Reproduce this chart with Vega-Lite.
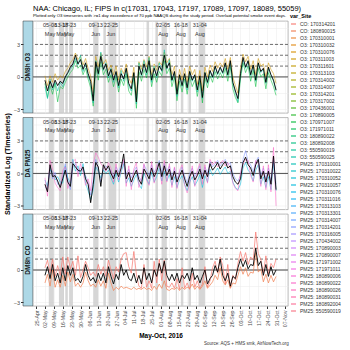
{
"$schema":"https://vega.github.io/schema/vega-lite/v6.json",
"padding":{"left":2,"top":4,"right":0,"bottom":2},
"background":"white",
"title":{"text":"NAA: Chicago, IL; FIPS in c(17031, 17043, 17197, 17089, 17097, 18089, 55059)","subtitle":"Plotted only O3 timeseries with >=1 day exceedence of 70 ppb NAAQS during the study period. Overlaid potential smoke event days.","anchor":"start","frame":"group","dx":10,"fontSize":7.5,"fontWeight":"normal","font":"Liberation Sans","subtitleFont":"Liberation Sans","subtitleFontSize":4.3,"color":"#000000","subtitleColor":"#000000","subtitlePadding":1.5,"offset":-4},
"config":{
"font":"Liberation Sans",
"axis":{"labelFont":"Liberation Sans","labelFontSize":5.5,"labelColor":"#4D4D4D","tickColor":"#333333","tickSize":2.5,"domain":false,"gridColor":"#EBEBEB","gridWidth":0.5,"titleFont":"Liberation Sans","titleFontSize":7,"titleFontWeight":"bold","titleColor":"#000000","labelOverlap":false},
"axisX":{"labelOverlap":false},
"legend":{"labelFont":"Liberation Sans","labelFontSize":5,"labelColor":"#333333","titleFont":"Liberation Sans","titleFontSize":5.5,"titleFontWeight":"bold","titleColor":"#000000","symbolType":"stroke","symbolStrokeWidth":1.2,"symbolSize":25,"rowPadding":0,"labelOffset":3,"symbolLimit":60,"titlePadding":1}
},
"datasets":{
"series":[{"k":"a","s":"O3: 170311003"},{"k":"b","s":"O3: 170971007"},{"k":"c","s":"O3: 550590025"},{"k":"d","s":"PM25: 170310057"},{"k":"e","s":"PM25: 170314201"},{"k":"f","s":"PM25: 180890022"},{"k":"g","s":"CO: 170314201"},{"k":"h","s":"CO: 180890015"}],
"bands":[{"t":"2016-05-05","t2":"2016-05-09"},{"t":"2016-05-13","t2":"2016-05-17"},{"t":"2016-05-18","t2":"2016-05-20"},{"t":"2016-05-21","t2":"2016-05-24"},{"t":"2016-06-09","t2":"2016-06-13"},{"t":"2016-06-17","t2":"2016-06-19"},{"t":"2016-06-21","t2":"2016-06-27"},{"t":"2016-06-29","t2":"2016-06-30"},{"t":"2016-07-21","t2":"2016-07-23"},{"t":"2016-07-28","t2":"2016-07-30"},{"t":"2016-08-02","t2":"2016-08-06"},{"t":"2016-08-13","t2":"2016-08-14"},{"t":"2016-08-17","t2":"2016-08-19"},{"t":"2016-08-23","t2":"2016-08-25"},{"t":"2016-08-31","t2":"2016-09-05"}],
"events":[{"t":"2016-05-06","lab":"05-08","m":"May"},{"t":"2016-05-15","lab":"13-17","m":"May"},{"t":"2016-05-21","lab":"18-23","m":"May"},{"t":"2016-06-11","lab":"09-13","m":"Jun"},{"t":"2016-06-23","lab":"22-25","m":"Jun"},{"t":"2016-08-03","lab":"02-05","m":"Aug"},{"t":"2016-08-17","lab":"16-18","m":"Aug"},{"t":"2016-09-01","lab":"31-04","m":"Aug"}],
"refs":[{"v":1},{"v":2},{"v":3}],
"zero":[{"v":0}],
"o3":[
{"t":"2016-05-02","k":"m","v":-0.3},{"t":"2016-05-02","k":"a","v":0.1},{"t":"2016-05-02","k":"b","v":-0.6},{"t":"2016-05-02","k":"c","v":-0.9},
{"t":"2016-05-04","k":"m","v":-1.3},{"t":"2016-05-04","k":"a","v":-0.8},{"t":"2016-05-04","k":"b","v":-1.9},{"t":"2016-05-04","k":"c","v":-2.0},
{"t":"2016-05-06","k":"m","v":-0.4},{"t":"2016-05-06","k":"a","v":0.1},{"t":"2016-05-06","k":"b","v":-0.8},{"t":"2016-05-06","k":"c","v":-0.2},
{"t":"2016-05-08","k":"m","v":-1.0},{"t":"2016-05-08","k":"a","v":-0.5},{"t":"2016-05-08","k":"b","v":-1.6},{"t":"2016-05-08","k":"c","v":-1.2},
{"t":"2016-05-10","k":"m","v":-0.3},{"t":"2016-05-10","k":"a","v":0.3},{"t":"2016-05-10","k":"b","v":-0.6},{"t":"2016-05-10","k":"c","v":-0.5},
{"t":"2016-05-12","k":"m","v":-0.8},{"t":"2016-05-12","k":"a","v":-0.3},{"t":"2016-05-12","k":"b","v":-2.3},{"t":"2016-05-12","k":"c","v":-1.3},
{"t":"2016-05-14","k":"m","v":-0.4},{"t":"2016-05-14","k":"a","v":0.1},{"t":"2016-05-14","k":"b","v":-0.9},{"t":"2016-05-14","k":"c","v":-0.5},
{"t":"2016-05-16","k":"m","v":-0.6},{"t":"2016-05-16","k":"a","v":-0.1},{"t":"2016-05-16","k":"b","v":-1.1},{"t":"2016-05-16","k":"c","v":-0.9},
{"t":"2016-05-18","k":"m","v":0.0},{"t":"2016-05-18","k":"a","v":0.5},{"t":"2016-05-18","k":"b","v":-0.5},{"t":"2016-05-18","k":"c","v":-0.1},
{"t":"2016-05-20","k":"m","v":0.4},{"t":"2016-05-20","k":"a","v":0.8},{"t":"2016-05-20","k":"b","v":0.0},{"t":"2016-05-20","k":"c","v":0.3},
{"t":"2016-05-22","k":"m","v":0.9},{"t":"2016-05-22","k":"a","v":1.3},{"t":"2016-05-22","k":"b","v":0.4},{"t":"2016-05-22","k":"c","v":0.7},
{"t":"2016-05-24","k":"m","v":1.2},{"t":"2016-05-24","k":"a","v":1.6},{"t":"2016-05-24","k":"b","v":0.7},{"t":"2016-05-24","k":"c","v":1.0},
{"t":"2016-05-26","k":"m","v":2.0},{"t":"2016-05-26","k":"a","v":2.2},{"t":"2016-05-26","k":"b","v":1.5},{"t":"2016-05-26","k":"c","v":1.7},
{"t":"2016-05-28","k":"m","v":1.2},{"t":"2016-05-28","k":"a","v":1.6},{"t":"2016-05-28","k":"b","v":0.8},{"t":"2016-05-28","k":"c","v":1.1},
{"t":"2016-05-30","k":"m","v":1.6},{"t":"2016-05-30","k":"a","v":1.9},{"t":"2016-05-30","k":"b","v":1.1},{"t":"2016-05-30","k":"c","v":2.0},
{"t":"2016-06-01","k":"m","v":0.7},{"t":"2016-06-01","k":"a","v":1.1},{"t":"2016-06-01","k":"b","v":0.2},{"t":"2016-06-01","k":"c","v":0.5},
{"t":"2016-06-03","k":"m","v":1.3},{"t":"2016-06-03","k":"a","v":1.7},{"t":"2016-06-03","k":"b","v":0.8},{"t":"2016-06-03","k":"c","v":1.2},
{"t":"2016-06-05","k":"m","v":0.3},{"t":"2016-06-05","k":"a","v":0.8},{"t":"2016-06-05","k":"b","v":-0.2},{"t":"2016-06-05","k":"c","v":0.1},
{"t":"2016-06-07","k":"m","v":-0.4},{"t":"2016-06-07","k":"a","v":0.1},{"t":"2016-06-07","k":"b","v":-1.0},{"t":"2016-06-07","k":"c","v":-0.6},
{"t":"2016-06-09","k":"m","v":-2.2},{"t":"2016-06-09","k":"a","v":-1.5},{"t":"2016-06-09","k":"b","v":-2.7},{"t":"2016-06-09","k":"c","v":-2.4},
{"t":"2016-06-11","k":"m","v":1.4},{"t":"2016-06-11","k":"a","v":1.9},{"t":"2016-06-11","k":"b","v":0.9},{"t":"2016-06-11","k":"c","v":1.5},
{"t":"2016-06-13","k":"m","v":0.3},{"t":"2016-06-13","k":"a","v":0.9},{"t":"2016-06-13","k":"b","v":-0.3},{"t":"2016-06-13","k":"c","v":0.2},
{"t":"2016-06-15","k":"m","v":1.9},{"t":"2016-06-15","k":"a","v":2.2},{"t":"2016-06-15","k":"b","v":1.4},{"t":"2016-06-15","k":"c","v":2.3},
{"t":"2016-06-17","k":"m","v":0.7},{"t":"2016-06-17","k":"a","v":1.2},{"t":"2016-06-17","k":"b","v":0.2},{"t":"2016-06-17","k":"c","v":0.6},
{"t":"2016-06-19","k":"m","v":1.2},{"t":"2016-06-19","k":"a","v":1.6},{"t":"2016-06-19","k":"b","v":0.7},{"t":"2016-06-19","k":"c","v":1.3},
{"t":"2016-06-21","k":"m","v":0.1},{"t":"2016-06-21","k":"a","v":0.6},{"t":"2016-06-21","k":"b","v":-0.5},{"t":"2016-06-21","k":"c","v":-0.1},
{"t":"2016-06-23","k":"m","v":0.7},{"t":"2016-06-23","k":"a","v":1.1},{"t":"2016-06-23","k":"b","v":0.2},{"t":"2016-06-23","k":"c","v":0.8},
{"t":"2016-06-25","k":"m","v":-0.3},{"t":"2016-06-25","k":"a","v":0.2},{"t":"2016-06-25","k":"b","v":-0.9},{"t":"2016-06-25","k":"c","v":-0.5},
{"t":"2016-06-27","k":"m","v":0.5},{"t":"2016-06-27","k":"a","v":1.0},{"t":"2016-06-27","k":"b","v":0.0},{"t":"2016-06-27","k":"c","v":0.4},
{"t":"2016-06-29","k":"m","v":-0.8},{"t":"2016-06-29","k":"a","v":-0.3},{"t":"2016-06-29","k":"b","v":-1.4},{"t":"2016-06-29","k":"c","v":-1.0},
{"t":"2016-07-01","k":"m","v":0.3},{"t":"2016-07-01","k":"a","v":0.8},{"t":"2016-07-01","k":"b","v":-0.2},{"t":"2016-07-01","k":"c","v":0.6},
{"t":"2016-07-03","k":"m","v":-0.2},{"t":"2016-07-03","k":"a","v":0.3},{"t":"2016-07-03","k":"b","v":-0.8},{"t":"2016-07-03","k":"c","v":-0.4},
{"t":"2016-07-05","k":"m","v":0.8},{"t":"2016-07-05","k":"a","v":1.2},{"t":"2016-07-05","k":"b","v":0.3},{"t":"2016-07-05","k":"c","v":0.7},
{"t":"2016-07-07","k":"m","v":-0.6},{"t":"2016-07-07","k":"a","v":-0.1},{"t":"2016-07-07","k":"b","v":-1.3},{"t":"2016-07-07","k":"c","v":-0.8},
{"t":"2016-07-09","k":"m","v":-1.1},{"t":"2016-07-09","k":"a","v":-0.6},{"t":"2016-07-09","k":"b","v":-1.7},{"t":"2016-07-09","k":"c","v":-1.3},
{"t":"2016-07-11","k":"m","v":0.4},{"t":"2016-07-11","k":"a","v":0.9},{"t":"2016-07-11","k":"b","v":-0.1},{"t":"2016-07-11","k":"c","v":0.3},
{"t":"2016-07-13","k":"m","v":-2.3},{"t":"2016-07-13","k":"a","v":-1.7},{"t":"2016-07-13","k":"b","v":-2.9},{"t":"2016-07-13","k":"c","v":-2.5},
{"t":"2016-07-15","k":"m","v":1.0},{"t":"2016-07-15","k":"a","v":1.4},{"t":"2016-07-15","k":"b","v":0.5},{"t":"2016-07-15","k":"c","v":1.3},
{"t":"2016-07-17","k":"m","v":0.2},{"t":"2016-07-17","k":"a","v":0.7},{"t":"2016-07-17","k":"b","v":-0.4},{"t":"2016-07-17","k":"c","v":0.1},
{"t":"2016-07-19","k":"m","v":1.2},{"t":"2016-07-19","k":"a","v":1.6},{"t":"2016-07-19","k":"b","v":0.7},{"t":"2016-07-19","k":"c","v":1.5},
{"t":"2016-07-21","k":"m","v":0.4},{"t":"2016-07-21","k":"a","v":0.9},{"t":"2016-07-21","k":"b","v":-0.1},{"t":"2016-07-21","k":"c","v":0.2},
{"t":"2016-07-23","k":"m","v":1.5},{"t":"2016-07-23","k":"a","v":1.9},{"t":"2016-07-23","k":"b","v":1.0},{"t":"2016-07-23","k":"c","v":1.8},
{"t":"2016-07-25","k":"m","v":-0.3},{"t":"2016-07-25","k":"a","v":0.2},{"t":"2016-07-25","k":"b","v":-0.9},{"t":"2016-07-25","k":"c","v":-0.5},
{"t":"2016-07-27","k":"m","v":0.8},{"t":"2016-07-27","k":"a","v":1.2},{"t":"2016-07-27","k":"b","v":0.3},{"t":"2016-07-27","k":"c","v":1.0},
{"t":"2016-07-29","k":"m","v":0.1},{"t":"2016-07-29","k":"a","v":0.6},{"t":"2016-07-29","k":"b","v":-0.5},{"t":"2016-07-29","k":"c","v":-0.1},
{"t":"2016-07-31","k":"m","v":1.0},{"t":"2016-07-31","k":"a","v":1.4},{"t":"2016-07-31","k":"b","v":0.5},{"t":"2016-07-31","k":"c","v":1.3},
{"t":"2016-08-02","k":"m","v":0.6},{"t":"2016-08-02","k":"a","v":1.1},{"t":"2016-08-02","k":"b","v":0.1},{"t":"2016-08-02","k":"c","v":0.5},
{"t":"2016-08-04","k":"m","v":2.0},{"t":"2016-08-04","k":"a","v":2.3},{"t":"2016-08-04","k":"b","v":1.5},{"t":"2016-08-04","k":"c","v":2.5},
{"t":"2016-08-06","k":"m","v":0.8},{"t":"2016-08-06","k":"a","v":1.3},{"t":"2016-08-06","k":"b","v":0.3},{"t":"2016-08-06","k":"c","v":0.7},
{"t":"2016-08-08","k":"m","v":1.3},{"t":"2016-08-08","k":"a","v":1.7},{"t":"2016-08-08","k":"b","v":0.8},{"t":"2016-08-08","k":"c","v":1.6},
{"t":"2016-08-10","k":"m","v":-0.3},{"t":"2016-08-10","k":"a","v":0.2},{"t":"2016-08-10","k":"b","v":-0.9},{"t":"2016-08-10","k":"c","v":-0.4},
{"t":"2016-08-12","k":"m","v":0.5},{"t":"2016-08-12","k":"a","v":1.0},{"t":"2016-08-12","k":"b","v":0.0},{"t":"2016-08-12","k":"c","v":0.4},
{"t":"2016-08-14","k":"m","v":-1.6},{"t":"2016-08-14","k":"a","v":-1.1},{"t":"2016-08-14","k":"b","v":-2.2},{"t":"2016-08-14","k":"c","v":-1.8},
{"t":"2016-08-16","k":"m","v":0.2},{"t":"2016-08-16","k":"a","v":0.7},{"t":"2016-08-16","k":"b","v":-0.4},{"t":"2016-08-16","k":"c","v":0.1},
{"t":"2016-08-18","k":"m","v":-0.8},{"t":"2016-08-18","k":"a","v":-0.3},{"t":"2016-08-18","k":"b","v":-1.4},{"t":"2016-08-18","k":"c","v":-0.9},
{"t":"2016-08-20","k":"m","v":0.3},{"t":"2016-08-20","k":"a","v":0.8},{"t":"2016-08-20","k":"b","v":-0.2},{"t":"2016-08-20","k":"c","v":0.2},
{"t":"2016-08-22","k":"m","v":-1.0},{"t":"2016-08-22","k":"a","v":-0.5},{"t":"2016-08-22","k":"b","v":-1.6},{"t":"2016-08-22","k":"c","v":-1.2},
{"t":"2016-08-24","k":"m","v":0.5},{"t":"2016-08-24","k":"a","v":1.0},{"t":"2016-08-24","k":"b","v":0.0},{"t":"2016-08-24","k":"c","v":0.5},
{"t":"2016-08-26","k":"m","v":-0.3},{"t":"2016-08-26","k":"a","v":0.2},{"t":"2016-08-26","k":"b","v":-0.9},{"t":"2016-08-26","k":"c","v":-0.4},
{"t":"2016-08-28","k":"m","v":0.2},{"t":"2016-08-28","k":"a","v":0.7},{"t":"2016-08-28","k":"b","v":-0.3},{"t":"2016-08-28","k":"c","v":0.1},
{"t":"2016-08-30","k":"m","v":-1.2},{"t":"2016-08-30","k":"a","v":-0.7},{"t":"2016-08-30","k":"b","v":-1.8},{"t":"2016-08-30","k":"c","v":-1.4},
{"t":"2016-09-01","k":"m","v":0.1},{"t":"2016-09-01","k":"a","v":0.6},{"t":"2016-09-01","k":"b","v":-0.4},{"t":"2016-09-01","k":"c","v":0.0},
{"t":"2016-09-03","k":"m","v":-1.9},{"t":"2016-09-03","k":"a","v":-1.3},{"t":"2016-09-03","k":"b","v":-2.4},{"t":"2016-09-03","k":"c","v":-2.0},
{"t":"2016-09-05","k":"m","v":0.4},{"t":"2016-09-05","k":"a","v":0.9},{"t":"2016-09-05","k":"b","v":-0.1},{"t":"2016-09-05","k":"c","v":0.4},
{"t":"2016-09-07","k":"m","v":-0.5},{"t":"2016-09-07","k":"a","v":0.0},{"t":"2016-09-07","k":"b","v":-1.0},{"t":"2016-09-07","k":"c","v":-0.6},
{"t":"2016-09-09","k":"m","v":0.6},{"t":"2016-09-09","k":"a","v":1.1},{"t":"2016-09-09","k":"b","v":0.1},{"t":"2016-09-09","k":"c","v":0.5},
{"t":"2016-09-11","k":"m","v":0.0},{"t":"2016-09-11","k":"a","v":0.5},{"t":"2016-09-11","k":"b","v":-0.5},{"t":"2016-09-11","k":"c","v":-0.1},
{"t":"2016-09-13","k":"m","v":1.0},{"t":"2016-09-13","k":"a","v":1.4},{"t":"2016-09-13","k":"b","v":0.5},{"t":"2016-09-13","k":"c","v":0.9},
{"t":"2016-09-15","k":"m","v":0.3},{"t":"2016-09-15","k":"a","v":0.8},{"t":"2016-09-15","k":"b","v":-0.2},{"t":"2016-09-15","k":"c","v":0.2},
{"t":"2016-09-17","k":"m","v":0.9},{"t":"2016-09-17","k":"a","v":1.3},{"t":"2016-09-17","k":"b","v":0.4},{"t":"2016-09-17","k":"c","v":0.8},
{"t":"2016-09-19","k":"m","v":0.4},{"t":"2016-09-19","k":"a","v":0.9},{"t":"2016-09-19","k":"b","v":-0.1},{"t":"2016-09-19","k":"c","v":0.3},
{"t":"2016-09-21","k":"m","v":1.3},{"t":"2016-09-21","k":"a","v":1.7},{"t":"2016-09-21","k":"b","v":0.8},{"t":"2016-09-21","k":"c","v":1.2},
{"t":"2016-09-23","k":"m","v":0.2},{"t":"2016-09-23","k":"a","v":0.7},{"t":"2016-09-23","k":"b","v":-0.4},{"t":"2016-09-23","k":"c","v":0.1},
{"t":"2016-09-25","k":"m","v":1.5},{"t":"2016-09-25","k":"a","v":1.8},{"t":"2016-09-25","k":"b","v":0.9},{"t":"2016-09-25","k":"c","v":1.3},
{"t":"2016-09-27","k":"m","v":-0.5},{"t":"2016-09-27","k":"a","v":0.0},{"t":"2016-09-27","k":"b","v":-1.1},{"t":"2016-09-27","k":"c","v":-0.6},
{"t":"2016-09-29","k":"m","v":-1.3},{"t":"2016-09-29","k":"a","v":-0.8},{"t":"2016-09-29","k":"b","v":-1.9},{"t":"2016-09-29","k":"c","v":-1.5},
{"t":"2016-10-01","k":"m","v":-2.0},{"t":"2016-10-01","k":"a","v":-1.5},{"t":"2016-10-01","k":"b","v":-2.4},{"t":"2016-10-01","k":"c","v":-2.3},
{"t":"2016-10-03","k":"m","v":0.3},{"t":"2016-10-03","k":"a","v":0.8},{"t":"2016-10-03","k":"b","v":-0.2},{"t":"2016-10-03","k":"c","v":0.2},
{"t":"2016-10-05","k":"m","v":1.8},{"t":"2016-10-05","k":"a","v":2.1},{"t":"2016-10-05","k":"b","v":1.3},{"t":"2016-10-05","k":"c","v":1.6},
{"t":"2016-10-07","k":"m","v":0.9},{"t":"2016-10-07","k":"a","v":1.4},{"t":"2016-10-07","k":"b","v":0.4},{"t":"2016-10-07","k":"c","v":0.8},
{"t":"2016-10-09","k":"m","v":1.5},{"t":"2016-10-09","k":"a","v":1.9},{"t":"2016-10-09","k":"b","v":1.0},{"t":"2016-10-09","k":"c","v":1.4},
{"t":"2016-10-11","k":"m","v":0.2},{"t":"2016-10-11","k":"a","v":0.7},{"t":"2016-10-11","k":"b","v":-0.4},{"t":"2016-10-11","k":"c","v":0.1},
{"t":"2016-10-13","k":"m","v":1.1},{"t":"2016-10-13","k":"a","v":1.5},{"t":"2016-10-13","k":"b","v":0.6},{"t":"2016-10-13","k":"c","v":1.0},
{"t":"2016-10-15","k":"m","v":-0.3},{"t":"2016-10-15","k":"a","v":0.2},{"t":"2016-10-15","k":"b","v":-0.9},{"t":"2016-10-15","k":"c","v":-0.4},
{"t":"2016-10-17","k":"m","v":1.3},{"t":"2016-10-17","k":"a","v":1.7},{"t":"2016-10-17","k":"b","v":0.8},{"t":"2016-10-17","k":"c","v":1.2},
{"t":"2016-10-19","k":"m","v":0.5},{"t":"2016-10-19","k":"a","v":1.0},{"t":"2016-10-19","k":"b","v":0.0},{"t":"2016-10-19","k":"c","v":0.4},
{"t":"2016-10-21","k":"m","v":0.8},{"t":"2016-10-21","k":"a","v":1.2},{"t":"2016-10-21","k":"b","v":0.3},{"t":"2016-10-21","k":"c","v":0.7},
{"t":"2016-10-23","k":"m","v":-0.5},{"t":"2016-10-23","k":"a","v":0.0},{"t":"2016-10-23","k":"b","v":-1.1},{"t":"2016-10-23","k":"c","v":-0.6},
{"t":"2016-10-25","k":"m","v":0.9},{"t":"2016-10-25","k":"a","v":1.3},{"t":"2016-10-25","k":"b","v":0.4},{"t":"2016-10-25","k":"c","v":0.8},
{"t":"2016-10-27","k":"m","v":0.2},{"t":"2016-10-27","k":"a","v":0.7},{"t":"2016-10-27","k":"b","v":-0.3},{"t":"2016-10-27","k":"c","v":0.1},
{"t":"2016-10-29","k":"m","v":-0.3},{"t":"2016-10-29","k":"a","v":0.3},{"t":"2016-10-29","k":"b","v":-0.9},{"t":"2016-10-29","k":"c","v":-0.4},
{"t":"2016-10-31","k":"m","v":-1.2},{"t":"2016-10-31","k":"a","v":-0.6},{"t":"2016-10-31","k":"b","v":-1.7},{"t":"2016-10-31","k":"c","v":-1.3}
],
"pm":[
{"t":"2016-05-02","k":"m","v":-1.0},{"t":"2016-05-02","k":"d","v":-0.6},{"t":"2016-05-02","k":"e","v":-1.3},{"t":"2016-05-02","k":"f","v":-0.4},
{"t":"2016-05-04","k":"m","v":-1.7},{"t":"2016-05-04","k":"d","v":-1.2},{"t":"2016-05-04","k":"e","v":-1.4},{"t":"2016-05-04","k":"f","v":-2.1},
{"t":"2016-05-06","k":"m","v":0.8},{"t":"2016-05-06","k":"d","v":0.3},{"t":"2016-05-06","k":"e","v":0.6},{"t":"2016-05-06","k":"f","v":1.2},
{"t":"2016-05-08","k":"m","v":-0.3},{"t":"2016-05-08","k":"d","v":0.2},{"t":"2016-05-08","k":"e","v":-0.5},{"t":"2016-05-08","k":"f","v":0.4},
{"t":"2016-05-10","k":"m","v":-0.2},{"t":"2016-05-10","k":"d","v":-0.6},{"t":"2016-05-10","k":"e","v":0.1},{"t":"2016-05-10","k":"f","v":-0.9},
{"t":"2016-05-12","k":"m","v":-0.7},{"t":"2016-05-12","k":"d","v":-0.3},{"t":"2016-05-12","k":"e","v":-1.0},{"t":"2016-05-12","k":"f","v":-1.3},
{"t":"2016-05-14","k":"m","v":-1.3},{"t":"2016-05-14","k":"d","v":-0.8},{"t":"2016-05-14","k":"e","v":-1.1},{"t":"2016-05-14","k":"f","v":-1.6},
{"t":"2016-05-16","k":"m","v":-0.5},{"t":"2016-05-16","k":"d","v":-0.9},{"t":"2016-05-16","k":"e","v":-0.2},{"t":"2016-05-16","k":"f","v":0.3},
{"t":"2016-05-18","k":"m","v":0.3},{"t":"2016-05-18","k":"d","v":0.7},{"t":"2016-05-18","k":"e","v":0.9},{"t":"2016-05-18","k":"f","v":0.6},
{"t":"2016-05-20","k":"m","v":-0.8},{"t":"2016-05-20","k":"d","v":-0.4},{"t":"2016-05-20","k":"e","v":-0.6},{"t":"2016-05-20","k":"f","v":-1.4},
{"t":"2016-05-22","k":"m","v":-1.2},{"t":"2016-05-22","k":"d","v":-0.9},{"t":"2016-05-22","k":"e","v":-1.5},{"t":"2016-05-22","k":"f","v":-0.7},
{"t":"2016-05-24","k":"m","v":0.9},{"t":"2016-05-24","k":"d","v":1.3},{"t":"2016-05-24","k":"e","v":0.5},{"t":"2016-05-24","k":"f","v":1.1},
{"t":"2016-05-26","k":"m","v":0.6},{"t":"2016-05-26","k":"d","v":0.2},{"t":"2016-05-26","k":"e","v":0.9},{"t":"2016-05-26","k":"f","v":1.3},
{"t":"2016-05-28","k":"m","v":0.3},{"t":"2016-05-28","k":"d","v":0.7},{"t":"2016-05-28","k":"e","v":0.1},{"t":"2016-05-28","k":"f","v":-0.3},
{"t":"2016-05-30","k":"m","v":0.2},{"t":"2016-05-30","k":"d","v":-0.2},{"t":"2016-05-30","k":"e","v":0.5},{"t":"2016-05-30","k":"f","v":0.9},
{"t":"2016-06-01","k":"m","v":0.6},{"t":"2016-06-01","k":"d","v":0.9},{"t":"2016-06-01","k":"e","v":0.3},{"t":"2016-06-01","k":"f","v":0.1},
{"t":"2016-06-03","k":"m","v":-0.5},{"t":"2016-06-03","k":"d","v":-0.9},{"t":"2016-06-03","k":"e","v":-0.2},{"t":"2016-06-03","k":"f","v":-1.1},
{"t":"2016-06-05","k":"m","v":-1.0},{"t":"2016-06-05","k":"d","v":-1.6},{"t":"2016-06-05","k":"e","v":-0.8},{"t":"2016-06-05","k":"f","v":-0.5},
{"t":"2016-06-07","k":"m","v":-2.7},{"t":"2016-06-07","k":"d","v":-2.4},{"t":"2016-06-07","k":"e","v":-2.0},{"t":"2016-06-07","k":"f","v":-1.6},
{"t":"2016-06-09","k":"m","v":-1.0},{"t":"2016-06-09","k":"d","v":-1.5},{"t":"2016-06-09","k":"e","v":-0.6},{"t":"2016-06-09","k":"f","v":0.8},
{"t":"2016-06-11","k":"m","v":1.0},{"t":"2016-06-11","k":"d","v":0.6},{"t":"2016-06-11","k":"e","v":1.3},{"t":"2016-06-11","k":"f","v":1.9},
{"t":"2016-06-13","k":"m","v":0.6},{"t":"2016-06-13","k":"d","v":0.2},{"t":"2016-06-13","k":"e","v":0.4},{"t":"2016-06-13","k":"f","v":1.5},
{"t":"2016-06-15","k":"m","v":-1.2},{"t":"2016-06-15","k":"d","v":-0.4},{"t":"2016-06-15","k":"e","v":-0.8},{"t":"2016-06-15","k":"f","v":0.9},
{"t":"2016-06-17","k":"m","v":0.8},{"t":"2016-06-17","k":"d","v":0.3},{"t":"2016-06-17","k":"e","v":0.5},{"t":"2016-06-17","k":"f","v":0.6},
{"t":"2016-06-19","k":"m","v":0.3},{"t":"2016-06-19","k":"d","v":0.0},{"t":"2016-06-19","k":"e","v":0.7},{"t":"2016-06-19","k":"f","v":0.2},
{"t":"2016-06-21","k":"m","v":0.7},{"t":"2016-06-21","k":"d","v":0.3},{"t":"2016-06-21","k":"e","v":0.4},{"t":"2016-06-21","k":"f","v":1.0},
{"t":"2016-06-23","k":"m","v":0.0},{"t":"2016-06-23","k":"d","v":-0.4},{"t":"2016-06-23","k":"e","v":0.3},{"t":"2016-06-23","k":"f","v":0.5},
{"t":"2016-06-25","k":"m","v":-0.5},{"t":"2016-06-25","k":"d","v":-1.0},{"t":"2016-06-25","k":"e","v":-0.3},{"t":"2016-06-25","k":"f","v":-0.8},
{"t":"2016-06-27","k":"m","v":0.3},{"t":"2016-06-27","k":"d","v":0.0},{"t":"2016-06-27","k":"e","v":0.6},{"t":"2016-06-27","k":"f","v":0.9},
{"t":"2016-06-29","k":"m","v":-0.3},{"t":"2016-06-29","k":"d","v":-0.8},{"t":"2016-06-29","k":"e","v":0.1},{"t":"2016-06-29","k":"f","v":-0.6},
{"t":"2016-07-01","k":"m","v":0.5},{"t":"2016-07-01","k":"d","v":0.1},{"t":"2016-07-01","k":"e","v":0.8},{"t":"2016-07-01","k":"f","v":0.3},
{"t":"2016-07-03","k":"m","v":1.8},{"t":"2016-07-03","k":"d","v":0.9},{"t":"2016-07-03","k":"e","v":1.1},{"t":"2016-07-03","k":"f","v":1.3},
{"t":"2016-07-05","k":"m","v":-0.5},{"t":"2016-07-05","k":"d","v":-0.9},{"t":"2016-07-05","k":"e","v":-0.1},{"t":"2016-07-05","k":"f","v":-1.2},
{"t":"2016-07-07","k":"m","v":0.1},{"t":"2016-07-07","k":"d","v":-0.4},{"t":"2016-07-07","k":"e","v":0.4},{"t":"2016-07-07","k":"f","v":0.7},
{"t":"2016-07-09","k":"m","v":-0.8},{"t":"2016-07-09","k":"d","v":-1.2},{"t":"2016-07-09","k":"e","v":-0.4},{"t":"2016-07-09","k":"f","v":-1.5},
{"t":"2016-07-11","k":"m","v":-0.2},{"t":"2016-07-11","k":"d","v":-0.6},{"t":"2016-07-11","k":"e","v":0.2},{"t":"2016-07-11","k":"f","v":0.4},
{"t":"2016-07-13","k":"m","v":0.3},{"t":"2016-07-13","k":"d","v":-0.1},{"t":"2016-07-13","k":"e","v":0.6},{"t":"2016-07-13","k":"f","v":1.0},
{"t":"2016-07-15","k":"m","v":-0.6},{"t":"2016-07-15","k":"d","v":-1.0},{"t":"2016-07-15","k":"e","v":-0.3},{"t":"2016-07-15","k":"f","v":-1.3},
{"t":"2016-07-17","k":"m","v":-1.0},{"t":"2016-07-17","k":"d","v":-1.4},{"t":"2016-07-17","k":"e","v":-0.7},{"t":"2016-07-17","k":"f","v":-0.4},
{"t":"2016-07-19","k":"m","v":0.4},{"t":"2016-07-19","k":"d","v":0.0},{"t":"2016-07-19","k":"e","v":0.8},{"t":"2016-07-19","k":"f","v":0.9},
{"t":"2016-07-21","k":"m","v":0.0},{"t":"2016-07-21","k":"d","v":-0.5},{"t":"2016-07-21","k":"e","v":0.3},{"t":"2016-07-21","k":"f","v":-0.6},
{"t":"2016-07-23","k":"m","v":-0.5},{"t":"2016-07-23","k":"d","v":-1.0},{"t":"2016-07-23","k":"e","v":-0.2},{"t":"2016-07-23","k":"f","v":-1.1},
{"t":"2016-07-25","k":"m","v":0.5},{"t":"2016-07-25","k":"d","v":0.1},{"t":"2016-07-25","k":"e","v":0.8},{"t":"2016-07-25","k":"f","v":1.1},
{"t":"2016-07-27","k":"m","v":-0.3},{"t":"2016-07-27","k":"d","v":-0.8},{"t":"2016-07-27","k":"e","v":0.1},{"t":"2016-07-27","k":"f","v":-0.9},
{"t":"2016-07-29","k":"m","v":0.2},{"t":"2016-07-29","k":"d","v":-0.3},{"t":"2016-07-29","k":"e","v":0.5},{"t":"2016-07-29","k":"f","v":0.8},
{"t":"2016-07-31","k":"m","v":1.0},{"t":"2016-07-31","k":"d","v":0.5},{"t":"2016-07-31","k":"e","v":1.2},{"t":"2016-07-31","k":"f","v":0.7},
{"t":"2016-08-02","k":"m","v":-0.3},{"t":"2016-08-02","k":"d","v":-0.7},{"t":"2016-08-02","k":"e","v":0.1},{"t":"2016-08-02","k":"f","v":-1.0},
{"t":"2016-08-04","k":"m","v":0.7},{"t":"2016-08-04","k":"d","v":0.2},{"t":"2016-08-04","k":"e","v":0.9},{"t":"2016-08-04","k":"f","v":1.2},
{"t":"2016-08-06","k":"m","v":-0.2},{"t":"2016-08-06","k":"d","v":-0.7},{"t":"2016-08-06","k":"e","v":0.2},{"t":"2016-08-06","k":"f","v":-0.8},
{"t":"2016-08-08","k":"m","v":0.4},{"t":"2016-08-08","k":"d","v":-0.1},{"t":"2016-08-08","k":"e","v":0.7},{"t":"2016-08-08","k":"f","v":0.9},
{"t":"2016-08-10","k":"m","v":-0.6},{"t":"2016-08-10","k":"d","v":-1.1},{"t":"2016-08-10","k":"e","v":-0.3},{"t":"2016-08-10","k":"f","v":-1.3},
{"t":"2016-08-12","k":"m","v":0.2},{"t":"2016-08-12","k":"d","v":-0.3},{"t":"2016-08-12","k":"e","v":0.5},{"t":"2016-08-12","k":"f","v":0.6},
{"t":"2016-08-14","k":"m","v":-0.8},{"t":"2016-08-14","k":"d","v":-1.3},{"t":"2016-08-14","k":"e","v":-0.5},{"t":"2016-08-14","k":"f","v":-1.4},
{"t":"2016-08-16","k":"m","v":-0.2},{"t":"2016-08-16","k":"d","v":-0.6},{"t":"2016-08-16","k":"e","v":0.1},{"t":"2016-08-16","k":"f","v":0.3},
{"t":"2016-08-18","k":"m","v":0.3},{"t":"2016-08-18","k":"d","v":-0.2},{"t":"2016-08-18","k":"e","v":0.6},{"t":"2016-08-18","k":"f","v":0.8},
{"t":"2016-08-20","k":"m","v":-0.5},{"t":"2016-08-20","k":"d","v":-1.0},{"t":"2016-08-20","k":"e","v":-0.2},{"t":"2016-08-20","k":"f","v":-1.1},
{"t":"2016-08-22","k":"m","v":-1.2},{"t":"2016-08-22","k":"d","v":-1.6},{"t":"2016-08-22","k":"e","v":-0.9},{"t":"2016-08-22","k":"f","v":-1.8},
{"t":"2016-08-24","k":"m","v":-0.3},{"t":"2016-08-24","k":"d","v":-0.8},{"t":"2016-08-24","k":"e","v":0.0},{"t":"2016-08-24","k":"f","v":-0.9},
{"t":"2016-08-26","k":"m","v":0.2},{"t":"2016-08-26","k":"d","v":-0.3},{"t":"2016-08-26","k":"e","v":0.5},{"t":"2016-08-26","k":"f","v":0.7},
{"t":"2016-08-28","k":"m","v":-0.6},{"t":"2016-08-28","k":"d","v":-1.1},{"t":"2016-08-28","k":"e","v":-0.3},{"t":"2016-08-28","k":"f","v":-1.2},
{"t":"2016-08-30","k":"m","v":-0.2},{"t":"2016-08-30","k":"d","v":-0.7},{"t":"2016-08-30","k":"e","v":0.1},{"t":"2016-08-30","k":"f","v":0.3},
{"t":"2016-09-01","k":"m","v":0.4},{"t":"2016-09-01","k":"d","v":-0.1},{"t":"2016-09-01","k":"e","v":0.7},{"t":"2016-09-01","k":"f","v":0.9},
{"t":"2016-09-03","k":"m","v":-0.5},{"t":"2016-09-03","k":"d","v":-1.3},{"t":"2016-09-03","k":"e","v":-0.2},{"t":"2016-09-03","k":"f","v":-1.0},
{"t":"2016-09-05","k":"m","v":0.3},{"t":"2016-09-05","k":"d","v":-0.2},{"t":"2016-09-05","k":"e","v":0.6},{"t":"2016-09-05","k":"f","v":0.8},
{"t":"2016-09-07","k":"m","v":-0.3},{"t":"2016-09-07","k":"d","v":-0.8},{"t":"2016-09-07","k":"e","v":0.0},{"t":"2016-09-07","k":"f","v":-0.9},
{"t":"2016-09-09","k":"m","v":0.9},{"t":"2016-09-09","k":"d","v":0.4},{"t":"2016-09-09","k":"e","v":1.1},{"t":"2016-09-09","k":"f","v":1.3},
{"t":"2016-09-11","k":"m","v":0.3},{"t":"2016-09-11","k":"d","v":-0.2},{"t":"2016-09-11","k":"e","v":0.6},{"t":"2016-09-11","k":"f","v":0.8},
{"t":"2016-09-13","k":"m","v":0.6},{"t":"2016-09-13","k":"d","v":0.1},{"t":"2016-09-13","k":"e","v":0.9},{"t":"2016-09-13","k":"f","v":1.1},
{"t":"2016-09-15","k":"m","v":1.0},{"t":"2016-09-15","k":"d","v":0.5},{"t":"2016-09-15","k":"e","v":1.2},{"t":"2016-09-15","k":"f","v":0.6},
{"t":"2016-09-17","k":"m","v":0.4},{"t":"2016-09-17","k":"d","v":-0.1},{"t":"2016-09-17","k":"e","v":0.7},{"t":"2016-09-17","k":"f","v":0.9},
{"t":"2016-09-19","k":"m","v":0.8},{"t":"2016-09-19","k":"d","v":0.3},{"t":"2016-09-19","k":"e","v":1.0},{"t":"2016-09-19","k":"f","v":1.2},
{"t":"2016-09-21","k":"m","v":1.1},{"t":"2016-09-21","k":"d","v":0.6},{"t":"2016-09-21","k":"e","v":1.3},{"t":"2016-09-21","k":"f","v":0.7},
{"t":"2016-09-23","k":"m","v":0.5},{"t":"2016-09-23","k":"d","v":0.0},{"t":"2016-09-23","k":"e","v":0.8},{"t":"2016-09-23","k":"f","v":1.0},
{"t":"2016-09-25","k":"m","v":0.7},{"t":"2016-09-25","k":"d","v":0.2},{"t":"2016-09-25","k":"e","v":1.0},{"t":"2016-09-25","k":"f","v":0.4},
{"t":"2016-09-27","k":"m","v":-0.3},{"t":"2016-09-27","k":"d","v":-0.8},{"t":"2016-09-27","k":"e","v":0.0},{"t":"2016-09-27","k":"f","v":-0.9},
{"t":"2016-09-29","k":"m","v":-0.8},{"t":"2016-09-29","k":"d","v":-1.3},{"t":"2016-09-29","k":"e","v":-0.5},{"t":"2016-09-29","k":"f","v":-1.4},
{"t":"2016-10-01","k":"m","v":-1.0},{"t":"2016-10-01","k":"d","v":-1.5},{"t":"2016-10-01","k":"e","v":-0.7},{"t":"2016-10-01","k":"f","v":-1.6},
{"t":"2016-10-03","k":"m","v":-0.5},{"t":"2016-10-03","k":"d","v":-1.0},{"t":"2016-10-03","k":"e","v":-0.2},{"t":"2016-10-03","k":"f","v":0.1},
{"t":"2016-10-05","k":"m","v":1.0},{"t":"2016-10-05","k":"d","v":0.5},{"t":"2016-10-05","k":"e","v":1.3},{"t":"2016-10-05","k":"f","v":0.8},
{"t":"2016-10-07","k":"m","v":1.5},{"t":"2016-10-07","k":"d","v":1.0},{"t":"2016-10-07","k":"e","v":2.1},{"t":"2016-10-07","k":"f","v":1.3},
{"t":"2016-10-09","k":"m","v":0.8},{"t":"2016-10-09","k":"d","v":0.3},{"t":"2016-10-09","k":"e","v":1.1},{"t":"2016-10-09","k":"f","v":1.2},
{"t":"2016-10-11","k":"m","v":0.5},{"t":"2016-10-11","k":"d","v":0.0},{"t":"2016-10-11","k":"e","v":0.8},{"t":"2016-10-11","k":"f","v":-0.2},
{"t":"2016-10-13","k":"m","v":-0.2},{"t":"2016-10-13","k":"d","v":-0.7},{"t":"2016-10-13","k":"e","v":0.1},{"t":"2016-10-13","k":"f","v":-0.8},
{"t":"2016-10-15","k":"m","v":0.8},{"t":"2016-10-15","k":"d","v":0.3},{"t":"2016-10-15","k":"e","v":1.1},{"t":"2016-10-15","k":"f","v":1.2},
{"t":"2016-10-17","k":"m","v":1.3},{"t":"2016-10-17","k":"d","v":0.8},{"t":"2016-10-17","k":"e","v":1.5},{"t":"2016-10-17","k":"f","v":0.9},
{"t":"2016-10-19","k":"m","v":-0.5},{"t":"2016-10-19","k":"d","v":-1.0},{"t":"2016-10-19","k":"e","v":-0.2},{"t":"2016-10-19","k":"f","v":-1.2},
{"t":"2016-10-21","k":"m","v":0.2},{"t":"2016-10-21","k":"d","v":-0.3},{"t":"2016-10-21","k":"e","v":0.5},{"t":"2016-10-21","k":"f","v":0.7},
{"t":"2016-10-23","k":"m","v":-0.8},{"t":"2016-10-23","k":"d","v":-1.3},{"t":"2016-10-23","k":"e","v":-0.5},{"t":"2016-10-23","k":"f","v":-1.5},
{"t":"2016-10-25","k":"m","v":0.2},{"t":"2016-10-25","k":"d","v":-0.3},{"t":"2016-10-25","k":"e","v":0.5},{"t":"2016-10-25","k":"f","v":0.8},
{"t":"2016-10-27","k":"m","v":-1.0},{"t":"2016-10-27","k":"d","v":-1.5},{"t":"2016-10-27","k":"e","v":-0.7},{"t":"2016-10-27","k":"f","v":-1.7},
{"t":"2016-10-29","k":"m","v":1.6},{"t":"2016-10-29","k":"d","v":1.0},{"t":"2016-10-29","k":"e","v":1.2},{"t":"2016-10-29","k":"f","v":2.4},
{"t":"2016-10-31","k":"m","v":-1.5},{"t":"2016-10-31","k":"d","v":-1.6},{"t":"2016-10-31","k":"e","v":-1.0},{"t":"2016-10-31","k":"f","v":-3.0}
],
"co":[
{"t":"2016-05-02","k":"m","v":-0.5},{"t":"2016-05-02","k":"g","v":0.2},{"t":"2016-05-02","k":"h","v":-1.2},
{"t":"2016-05-04","k":"m","v":0.3},{"t":"2016-05-04","k":"g","v":0.9},{"t":"2016-05-04","k":"h","v":-0.4},
{"t":"2016-05-06","k":"m","v":-0.8},{"t":"2016-05-06","k":"g","v":-0.3},{"t":"2016-05-06","k":"h","v":-1.5},
{"t":"2016-05-08","k":"m","v":0.5},{"t":"2016-05-08","k":"g","v":1.0},{"t":"2016-05-08","k":"h","v":0.0},
{"t":"2016-05-10","k":"m","v":-1.0},{"t":"2016-05-10","k":"g","v":-0.6},{"t":"2016-05-10","k":"h","v":-1.6},
{"t":"2016-05-12","k":"m","v":-0.3},{"t":"2016-05-12","k":"g","v":0.4},{"t":"2016-05-12","k":"h","v":-0.9},
{"t":"2016-05-14","k":"m","v":-1.2},{"t":"2016-05-14","k":"g","v":-0.5},{"t":"2016-05-14","k":"h","v":-1.6},
{"t":"2016-05-16","k":"m","v":0.2},{"t":"2016-05-16","k":"g","v":1.2},{"t":"2016-05-16","k":"h","v":-0.5},
{"t":"2016-05-18","k":"m","v":-1.0},{"t":"2016-05-18","k":"g","v":-0.4},{"t":"2016-05-18","k":"h","v":-1.5},
{"t":"2016-05-20","k":"m","v":0.4},{"t":"2016-05-20","k":"g","v":1.2},{"t":"2016-05-20","k":"h","v":-0.2},
{"t":"2016-05-22","k":"m","v":-0.5},{"t":"2016-05-22","k":"g","v":0.1},{"t":"2016-05-22","k":"h","v":-1.1},
{"t":"2016-05-24","k":"m","v":0.2},{"t":"2016-05-24","k":"g","v":0.8},{"t":"2016-05-24","k":"h","v":-0.4},
{"t":"2016-05-26","k":"m","v":-1.0},{"t":"2016-05-26","k":"g","v":-0.5},{"t":"2016-05-26","k":"h","v":-1.5},
{"t":"2016-05-28","k":"m","v":-0.8},{"t":"2016-05-28","k":"g","v":1.3},{"t":"2016-05-28","k":"h","v":-1.2},
{"t":"2016-05-30","k":"m","v":-1.2},{"t":"2016-05-30","k":"g","v":-0.7},{"t":"2016-05-30","k":"h","v":-1.6},
{"t":"2016-06-01","k":"m","v":-0.6},{"t":"2016-06-01","k":"g","v":0.0},{"t":"2016-06-01","k":"h","v":-1.2},
{"t":"2016-06-03","k":"m","v":0.5},{"t":"2016-06-03","k":"g","v":0.8},{"t":"2016-06-03","k":"h","v":-0.2},
{"t":"2016-06-05","k":"m","v":-0.5},{"t":"2016-06-05","k":"g","v":0.2},{"t":"2016-06-05","k":"h","v":-1.0},
{"t":"2016-06-07","k":"m","v":-1.0},{"t":"2016-06-07","k":"g","v":-0.5},{"t":"2016-06-07","k":"h","v":-1.5},
{"t":"2016-06-09","k":"m","v":-0.7},{"t":"2016-06-09","k":"g","v":-0.2},{"t":"2016-06-09","k":"h","v":-1.3},
{"t":"2016-06-11","k":"m","v":-1.2},{"t":"2016-06-11","k":"g","v":-0.6},{"t":"2016-06-11","k":"h","v":-1.6},
{"t":"2016-06-13","k":"m","v":-0.3},{"t":"2016-06-13","k":"g","v":0.5},{"t":"2016-06-13","k":"h","v":-0.9},
{"t":"2016-06-15","k":"m","v":-1.0},{"t":"2016-06-15","k":"g","v":-0.4},{"t":"2016-06-15","k":"h","v":-1.5},
{"t":"2016-06-17","k":"m","v":-0.3},{"t":"2016-06-17","k":"g","v":0.3},{"t":"2016-06-17","k":"h","v":-1.0},
{"t":"2016-06-19","k":"m","v":-1.2},{"t":"2016-06-19","k":"g","v":-0.6},{"t":"2016-06-19","k":"h","v":-1.7},
{"t":"2016-06-21","k":"m","v":0.3},{"t":"2016-06-21","k":"g","v":0.9},{"t":"2016-06-21","k":"h","v":-0.3},
{"t":"2016-06-23","k":"m","v":-0.6},{"t":"2016-06-23","k":"g","v":0.0},{"t":"2016-06-23","k":"h","v":-1.2},
{"t":"2016-06-25","k":"m","v":-1.3},{"t":"2016-06-25","k":"g","v":-0.8},{"t":"2016-06-25","k":"h","v":-1.9},
{"t":"2016-06-27","k":"m","v":-0.4},{"t":"2016-06-27","k":"g","v":0.3},{"t":"2016-06-27","k":"h","v":-1.6},
{"t":"2016-06-29","k":"m","v":-0.9},{"t":"2016-06-29","k":"g","v":-0.2},{"t":"2016-06-29","k":"h","v":-1.8},
{"t":"2016-07-01","k":"m","v":0.5},{"t":"2016-07-01","k":"g","v":1.0},{"t":"2016-07-01","k":"h","v":-1.5},
{"t":"2016-07-03","k":"m","v":-0.5},{"t":"2016-07-03","k":"g","v":1.5},{"t":"2016-07-03","k":"h","v":-1.7},
{"t":"2016-07-05","k":"m","v":0.0},{"t":"2016-07-05","k":"g","v":1.6},{"t":"2016-07-05","k":"h","v":-1.6},
{"t":"2016-07-07","k":"m","v":-0.8},{"t":"2016-07-07","k":"g","v":0.3},{"t":"2016-07-07","k":"h","v":-1.7},
{"t":"2016-07-09","k":"m","v":-1.0},{"t":"2016-07-09","k":"g","v":-0.3},{"t":"2016-07-09","k":"h","v":-1.8},
{"t":"2016-07-11","k":"m","v":-0.3},{"t":"2016-07-11","k":"g","v":1.7},{"t":"2016-07-11","k":"h","v":-1.6},
{"t":"2016-07-13","k":"m","v":-1.2},{"t":"2016-07-13","k":"g","v":-0.4},{"t":"2016-07-13","k":"h","v":-1.8},
{"t":"2016-07-15","k":"m","v":-0.5},{"t":"2016-07-15","k":"g","v":-1.5},{"t":"2016-07-15","k":"h","v":-1.7},
{"t":"2016-07-17","k":"m","v":-1.3},{"t":"2016-07-17","k":"g","v":-1.7},{"t":"2016-07-17","k":"h","v":-1.8},
{"t":"2016-07-19","k":"m","v":0.2},{"t":"2016-07-19","k":"g","v":0.5},{"t":"2016-07-19","k":"h","v":-1.6},
{"t":"2016-07-21","k":"m","v":-0.9},{"t":"2016-07-21","k":"g","v":-1.6},{"t":"2016-07-21","k":"h","v":-1.8},
{"t":"2016-07-23","k":"m","v":-0.3},{"t":"2016-07-23","k":"g","v":-1.0},{"t":"2016-07-23","k":"h","v":-1.7},
{"t":"2016-07-25","k":"m","v":-1.2},{"t":"2016-07-25","k":"g","v":-1.7},{"t":"2016-07-25","k":"h","v":-1.9},
{"t":"2016-07-27","k":"m","v":0.0},{"t":"2016-07-27","k":"g","v":0.8},{"t":"2016-07-27","k":"h","v":-1.5},
{"t":"2016-07-29","k":"m","v":-0.6},{"t":"2016-07-29","k":"g","v":-1.2},{"t":"2016-07-29","k":"h","v":-1.8},
{"t":"2016-07-31","k":"m","v":0.6},{"t":"2016-07-31","k":"g","v":1.0},{"t":"2016-07-31","k":"h","v":-1.3},
{"t":"2016-08-02","k":"m","v":-0.3},{"t":"2016-08-02","k":"g","v":-1.0},{"t":"2016-08-02","k":"h","v":-1.7},
{"t":"2016-08-04","k":"m","v":0.8},{"t":"2016-08-04","k":"g","v":0.9},{"t":"2016-08-04","k":"h","v":-1.0},
{"t":"2016-08-06","k":"m","v":-0.5},{"t":"2016-08-06","k":"g","v":-1.5},{"t":"2016-08-06","k":"h","v":-1.8},
{"t":"2016-08-08","k":"m","v":-1.0},{"t":"2016-08-08","k":"g","v":-1.6},{"t":"2016-08-08","k":"h","v":-1.9},
{"t":"2016-08-10","k":"m","v":-0.4},{"t":"2016-08-10","k":"g","v":-1.2},{"t":"2016-08-10","k":"h","v":-1.7},
{"t":"2016-08-12","k":"m","v":-1.0},{"t":"2016-08-12","k":"g","v":-1.7},{"t":"2016-08-12","k":"h","v":-1.8},
{"t":"2016-08-14","k":"m","v":-0.3},{"t":"2016-08-14","k":"g","v":-0.8},{"t":"2016-08-14","k":"h","v":-1.6},
{"t":"2016-08-16","k":"m","v":-1.2},{"t":"2016-08-16","k":"g","v":-1.8},{"t":"2016-08-16","k":"h","v":-1.9},
{"t":"2016-08-18","k":"m","v":-0.5},{"t":"2016-08-18","k":"g","v":0.2},{"t":"2016-08-18","k":"h","v":-1.6},
{"t":"2016-08-20","k":"m","v":-0.8},{"t":"2016-08-20","k":"g","v":-1.7},{"t":"2016-08-20","k":"h","v":-1.8},
{"t":"2016-08-22","k":"m","v":-0.3},{"t":"2016-08-22","k":"g","v":-1.2},{"t":"2016-08-22","k":"h","v":-1.6},
{"t":"2016-08-24","k":"m","v":-1.0},{"t":"2016-08-24","k":"g","v":-1.8},{"t":"2016-08-24","k":"h","v":-1.7},
{"t":"2016-08-26","k":"m","v":0.2},{"t":"2016-08-26","k":"g","v":-0.3},{"t":"2016-08-26","k":"h","v":-1.3},
{"t":"2016-08-28","k":"m","v":-0.9},{"t":"2016-08-28","k":"g","v":-1.6},{"t":"2016-08-28","k":"h","v":-1.8},
{"t":"2016-08-30","k":"m","v":-0.5},{"t":"2016-08-30","k":"g","v":-1.0},{"t":"2016-08-30","k":"h","v":-1.5},
{"t":"2016-09-01","k":"m","v":-1.2},{"t":"2016-09-01","k":"g","v":-1.7},{"t":"2016-09-01","k":"h","v":-1.8},
{"t":"2016-09-03","k":"m","v":-0.6},{"t":"2016-09-03","k":"g","v":-1.3},{"t":"2016-09-03","k":"h","v":-1.5},
{"t":"2016-09-05","k":"m","v":0.0},{"t":"2016-09-05","k":"g","v":0.3},{"t":"2016-09-05","k":"h","v":-1.0},
{"t":"2016-09-07","k":"m","v":-1.3},{"t":"2016-09-07","k":"g","v":-1.6},{"t":"2016-09-07","k":"h","v":-1.7},
{"t":"2016-09-09","k":"m","v":-0.8},{"t":"2016-09-09","k":"g","v":-1.0},{"t":"2016-09-09","k":"h","v":-1.4},
{"t":"2016-09-11","k":"m","v":-0.5},{"t":"2016-09-11","k":"g","v":0.2},{"t":"2016-09-11","k":"h","v":-1.1},
{"t":"2016-09-13","k":"m","v":0.4},{"t":"2016-09-13","k":"g","v":0.8},{"t":"2016-09-13","k":"h","v":-0.5},
{"t":"2016-09-15","k":"m","v":-0.2},{"t":"2016-09-15","k":"g","v":-0.3},{"t":"2016-09-15","k":"h","v":-0.9},
{"t":"2016-09-17","k":"m","v":1.0},{"t":"2016-09-17","k":"g","v":1.2},{"t":"2016-09-17","k":"h","v":0.2},
{"t":"2016-09-19","k":"m","v":-0.5},{"t":"2016-09-19","k":"g","v":0.4},{"t":"2016-09-19","k":"h","v":-1.0},
{"t":"2016-09-21","k":"m","v":-1.0},{"t":"2016-09-21","k":"g","v":-1.3},{"t":"2016-09-21","k":"h","v":-1.4},
{"t":"2016-09-23","k":"m","v":-0.3},{"t":"2016-09-23","k":"g","v":0.5},{"t":"2016-09-23","k":"h","v":-0.9},
{"t":"2016-09-25","k":"m","v":-1.5},{"t":"2016-09-25","k":"g","v":-1.6},{"t":"2016-09-25","k":"h","v":-1.7},
{"t":"2016-09-27","k":"m","v":-0.6},{"t":"2016-09-27","k":"g","v":-0.5},{"t":"2016-09-27","k":"h","v":-1.2},
{"t":"2016-09-29","k":"m","v":-0.8},{"t":"2016-09-29","k":"g","v":-0.9},{"t":"2016-09-29","k":"h","v":-1.3},
{"t":"2016-10-01","k":"m","v":0.2},{"t":"2016-10-01","k":"g","v":0.6},{"t":"2016-10-01","k":"h","v":-0.5},
{"t":"2016-10-03","k":"m","v":1.0},{"t":"2016-10-03","k":"g","v":1.7},{"t":"2016-10-03","k":"h","v":0.3},
{"t":"2016-10-05","k":"m","v":0.3},{"t":"2016-10-05","k":"g","v":0.8},{"t":"2016-10-05","k":"h","v":-0.4},
{"t":"2016-10-07","k":"m","v":0.9},{"t":"2016-10-07","k":"g","v":1.6},{"t":"2016-10-07","k":"h","v":0.2},
{"t":"2016-10-09","k":"m","v":0.1},{"t":"2016-10-09","k":"g","v":0.5},{"t":"2016-10-09","k":"h","v":-0.6},
{"t":"2016-10-11","k":"m","v":0.5},{"t":"2016-10-11","k":"g","v":1.2},{"t":"2016-10-11","k":"h","v":-0.2},
{"t":"2016-10-13","k":"m","v":0.4},{"t":"2016-10-13","k":"g","v":0.9},{"t":"2016-10-13","k":"h","v":-0.3},
{"t":"2016-10-15","k":"m","v":2.0},{"t":"2016-10-15","k":"g","v":3.5},{"t":"2016-10-15","k":"h","v":1.6},
{"t":"2016-10-17","k":"m","v":0.4},{"t":"2016-10-17","k":"g","v":1.5},{"t":"2016-10-17","k":"h","v":-0.2},
{"t":"2016-10-19","k":"m","v":0.8},{"t":"2016-10-19","k":"g","v":1.0},{"t":"2016-10-19","k":"h","v":0.1},
{"t":"2016-10-21","k":"m","v":-0.5},{"t":"2016-10-21","k":"g","v":-0.3},{"t":"2016-10-21","k":"h","v":-1.1},
{"t":"2016-10-23","k":"m","v":0.5},{"t":"2016-10-23","k":"g","v":1.3},{"t":"2016-10-23","k":"h","v":-0.4},
{"t":"2016-10-25","k":"m","v":-0.6},{"t":"2016-10-25","k":"g","v":-0.4},{"t":"2016-10-25","k":"h","v":-1.2},
{"t":"2016-10-27","k":"m","v":0.3},{"t":"2016-10-27","k":"g","v":0.6},{"t":"2016-10-27","k":"h","v":-0.5},
{"t":"2016-10-29","k":"m","v":-0.5},{"t":"2016-10-29","k":"g","v":0.2},{"t":"2016-10-29","k":"h","v":-1.1},
{"t":"2016-10-31","k":"m","v":0.0},{"t":"2016-10-31","k":"g","v":1.0},{"t":"2016-10-31","k":"h","v":-0.6}
]
},
"bounds":"flush",
"columns":2,
"spacing":{"row":4.5,"column":0},
"resolve":{"scale":{"color":"shared"}},
"concat":[
{"width":10,"height":92,"view":{"fill":"#ADD8E6","stroke":"#333333","strokeWidth":0.5},
"data":{"values":[{"lab":"DM8h O3"}]},
"mark":{"type":"text","angle":270,"fontWeight":"bold","fontSize":6.5,"font":"Liberation Sans","color":"#1A1A1A","baseline":"middle","align":"center"},
"encoding":{"text":{"field":"lab"},"y":{"datum":0.915,"type":"quantitative","scale":{"domain":[-3.33,5.16],"nice":false,"zero":false},"axis":{"values":[-3,0,3],"format":"d","grid":false,"title":null,"labelPadding":1}}}},
{"width":255,"height":92,"view":{"stroke":"#8C8C8C","strokeWidth":0.6,"fill":"white"},
"layer":[
{"data":{"name":"bands"},"mark":{"type":"rect","color":"#C8C8C8","opacity":0.75},
"encoding":{"x":{"field":"t","type":"temporal","scale":{"domain":[{"year":2016,"month":4,"date":22,"hours":14},{"year":2016,"month":11,"date":9,"hours":10}]},"axis":{"labels":false,"ticks":false,"title":null,"grid":true,"tickCount":100,"values":[{"year":2016,"month":4,"date":25},{"year":2016,"month":5,"date":2},{"year":2016,"month":5,"date":9},{"year":2016,"month":5,"date":16},{"year":2016,"month":5,"date":23},{"year":2016,"month":5,"date":30},{"year":2016,"month":6,"date":6},{"year":2016,"month":6,"date":13},{"year":2016,"month":6,"date":20},{"year":2016,"month":6,"date":27},{"year":2016,"month":7,"date":4},{"year":2016,"month":7,"date":11},{"year":2016,"month":7,"date":18},{"year":2016,"month":7,"date":25},{"year":2016,"month":8,"date":1},{"year":2016,"month":8,"date":8},{"year":2016,"month":8,"date":15},{"year":2016,"month":8,"date":22},{"year":2016,"month":8,"date":29},{"year":2016,"month":9,"date":5},{"year":2016,"month":9,"date":12},{"year":2016,"month":9,"date":19},{"year":2016,"month":9,"date":26},{"year":2016,"month":10,"date":3},{"year":2016,"month":10,"date":10},{"year":2016,"month":10,"date":17},{"year":2016,"month":10,"date":24},{"year":2016,"month":10,"date":31},{"year":2016,"month":11,"date":7}]}},"x2":{"field":"t2"}}},
{"data":{"name":"refs"},"mark":{"type":"rule","strokeDash":[3,2],"color":"#333333","strokeWidth":0.7},
"encoding":{"y":{"field":"v","type":"quantitative","scale":{"domain":[-3.33,5.16],"nice":false,"zero":false},"axis":{"labels":false,"ticks":false,"title":null,"grid":true,"tickCount":20,"values":[-3,-1.5,0,1.5,3,4.5]}}}},
{"data":{"name":"zero"},"mark":{"type":"rule","color":"#4D4D4D","strokeWidth":1},"encoding":{"y":{"field":"v","type":"quantitative"}}},
{"data":{"name":"o3"},"transform":[{"filter":"datum.k != 'm'"},{"lookup":"k","from":{"data":{"name":"series"},"key":"k","fields":["s"]}}],
"mark":{"type":"line","strokeWidth":0.6,"opacity":0.9},
"encoding":{"x":{"field":"t","type":"temporal"},"y":{"field":"v","type":"quantitative"},
"color":{"field":"s","type":"nominal","scale":{"domain":["CO: 170314201","CO: 180890015","O3: 170310001","O3: 170310032","O3: 170310076","O3: 170311003","O3: 170311601","O3: 170313103","O3: 170314002","O3: 170314007","O3: 170314201","O3: 170317002","O3: 170436001","O3: 170890005","O3: 170971007","O3: 171971011","O3: 180890022","O3: 180892008","O3: 550590019","O3: 550590025","PM25: 170310001","PM25: 170310022","PM25: 170310052","PM25: 170310057","PM25: 170310076","PM25: 170311016","PM25: 170313103","PM25: 170313301","PM25: 170314007","PM25: 170314201","PM25: 170316005","PM25: 170434002","PM25: 170890003","PM25: 170890007","PM25: 171971002","PM25: 171971011","PM25: 180890006","PM25: 180890022","PM25: 180890026","PM25: 180890031","PM25: 180892004","PM25: 550590019"],"range":["#F8766D","#F17C4E","#E9832F","#E28910","#D88F00","#CD9400","#C29A00","#B79F00","#A6A300","#95A800","#84AC00","#6AB008","#47B318","#23B728","#00BA38","#00BC50","#00BD67","#00BF7F","#00C093","#00C0A3","#00BFB3","#00BFC4","#00BCD1","#00B9DC","#00B6EA","#0EB1F2","#2AAAF6","#45A3FB","#619CFF","#7E93FF","#9B8AFF","#B881FF","#CE79FB","#DB72F3","#E86BEB","#F564E3","#F864D4","#FB64C6","#FE64B7","#FE67A6","#FC6C93","#F97180"]},
"legend":{"title":"var_Site","orient":"none","legendX":267,"legendY":-7}}}},
{"data":{"name":"o3"},"transform":[{"filter":"datum.k == 'm'"}],"mark":{"type":"line","color":"#000000","strokeWidth":0.9},
"encoding":{"x":{"field":"t","type":"temporal"},"y":{"field":"v","type":"quantitative"}}},
{"data":{"name":"events"},"mark":{"type":"text","fontSize":5.5,"color":"#333333","font":"Liberation Sans"},"encoding":{"x":{"field":"t","type":"temporal"},"y":{"datum":4.75},"text":{"field":"lab"}}},
{"data":{"name":"events"},"mark":{"type":"text","fontSize":5.5,"color":"#333333","font":"Liberation Sans"},"encoding":{"x":{"field":"t","type":"temporal"},"y":{"datum":4.0},"text":{"field":"m"}}}
]},
{"width":10,"height":92,"view":{"fill":"#ADD8E6","stroke":"#333333","strokeWidth":0.5},
"data":{"values":[{"lab":"DA PM25"}]},
"mark":{"type":"text","angle":270,"fontWeight":"bold","fontSize":6.5,"font":"Liberation Sans","color":"#1A1A1A","baseline":"middle","align":"center"},
"encoding":{"text":{"field":"lab"},"y":{"datum":0.915,"type":"quantitative","scale":{"domain":[-3.33,5.16],"nice":false,"zero":false},"axis":{"values":[-3,0,3],"format":"d","grid":false,"title":"Standardized Log (Timeseries)","titlePadding":3,"labelPadding":1}}}},
{"width":255,"height":92,"view":{"stroke":"#8C8C8C","strokeWidth":0.6,"fill":"white"},
"layer":[
{"data":{"name":"bands"},"mark":{"type":"rect","color":"#C8C8C8","opacity":0.75},
"encoding":{"x":{"field":"t","type":"temporal","scale":{"domain":[{"year":2016,"month":4,"date":22,"hours":14},{"year":2016,"month":11,"date":9,"hours":10}]},"axis":{"labels":false,"ticks":false,"title":null,"grid":true,"tickCount":100,"values":[{"year":2016,"month":4,"date":25},{"year":2016,"month":5,"date":2},{"year":2016,"month":5,"date":9},{"year":2016,"month":5,"date":16},{"year":2016,"month":5,"date":23},{"year":2016,"month":5,"date":30},{"year":2016,"month":6,"date":6},{"year":2016,"month":6,"date":13},{"year":2016,"month":6,"date":20},{"year":2016,"month":6,"date":27},{"year":2016,"month":7,"date":4},{"year":2016,"month":7,"date":11},{"year":2016,"month":7,"date":18},{"year":2016,"month":7,"date":25},{"year":2016,"month":8,"date":1},{"year":2016,"month":8,"date":8},{"year":2016,"month":8,"date":15},{"year":2016,"month":8,"date":22},{"year":2016,"month":8,"date":29},{"year":2016,"month":9,"date":5},{"year":2016,"month":9,"date":12},{"year":2016,"month":9,"date":19},{"year":2016,"month":9,"date":26},{"year":2016,"month":10,"date":3},{"year":2016,"month":10,"date":10},{"year":2016,"month":10,"date":17},{"year":2016,"month":10,"date":24},{"year":2016,"month":10,"date":31},{"year":2016,"month":11,"date":7}]}},"x2":{"field":"t2"}}},
{"data":{"name":"refs"},"mark":{"type":"rule","strokeDash":[3,2],"color":"#333333","strokeWidth":0.7},
"encoding":{"y":{"field":"v","type":"quantitative","scale":{"domain":[-3.33,5.16],"nice":false,"zero":false},"axis":{"labels":false,"ticks":false,"title":null,"grid":true,"tickCount":20,"values":[-3,-1.5,0,1.5,3,4.5]}}}},
{"data":{"name":"zero"},"mark":{"type":"rule","color":"#4D4D4D","strokeWidth":1},"encoding":{"y":{"field":"v","type":"quantitative"}}},
{"data":{"name":"pm"},"transform":[{"filter":"datum.k != 'm'"},{"lookup":"k","from":{"data":{"name":"series"},"key":"k","fields":["s"]}}],
"mark":{"type":"line","strokeWidth":0.6,"opacity":0.9},
"encoding":{"x":{"field":"t","type":"temporal"},"y":{"field":"v","type":"quantitative"},
"color":{"field":"s","type":"nominal","scale":{"domain":["CO: 170314201","CO: 180890015","O3: 170310001","O3: 170310032","O3: 170310076","O3: 170311003","O3: 170311601","O3: 170313103","O3: 170314002","O3: 170314007","O3: 170314201","O3: 170317002","O3: 170436001","O3: 170890005","O3: 170971007","O3: 171971011","O3: 180890022","O3: 180892008","O3: 550590019","O3: 550590025","PM25: 170310001","PM25: 170310022","PM25: 170310052","PM25: 170310057","PM25: 170310076","PM25: 170311016","PM25: 170313103","PM25: 170313301","PM25: 170314007","PM25: 170314201","PM25: 170316005","PM25: 170434002","PM25: 170890003","PM25: 170890007","PM25: 171971002","PM25: 171971011","PM25: 180890006","PM25: 180890022","PM25: 180890026","PM25: 180890031","PM25: 180892004","PM25: 550590019"],"range":["#F8766D","#F17C4E","#E9832F","#E28910","#D88F00","#CD9400","#C29A00","#B79F00","#A6A300","#95A800","#84AC00","#6AB008","#47B318","#23B728","#00BA38","#00BC50","#00BD67","#00BF7F","#00C093","#00C0A3","#00BFB3","#00BFC4","#00BCD1","#00B9DC","#00B6EA","#0EB1F2","#2AAAF6","#45A3FB","#619CFF","#7E93FF","#9B8AFF","#B881FF","#CE79FB","#DB72F3","#E86BEB","#F564E3","#F864D4","#FB64C6","#FE64B7","#FE67A6","#FC6C93","#F97180"]},
"legend":{"title":"var_Site","orient":"none","legendX":267,"legendY":-7}}}},
{"data":{"name":"pm"},"transform":[{"filter":"datum.k == 'm'"}],"mark":{"type":"line","color":"#000000","strokeWidth":0.9},
"encoding":{"x":{"field":"t","type":"temporal"},"y":{"field":"v","type":"quantitative"}}},
{"data":{"name":"events"},"mark":{"type":"text","fontSize":5.5,"color":"#333333","font":"Liberation Sans"},"encoding":{"x":{"field":"t","type":"temporal"},"y":{"datum":4.75},"text":{"field":"lab"}}},
{"data":{"name":"events"},"mark":{"type":"text","fontSize":5.5,"color":"#333333","font":"Liberation Sans"},"encoding":{"x":{"field":"t","type":"temporal"},"y":{"datum":4.0},"text":{"field":"m"}}}
]},
{"width":10,"height":92,"view":{"fill":"#ADD8E6","stroke":"#333333","strokeWidth":0.5},
"data":{"values":[{"lab":"DM8h CO"}]},
"mark":{"type":"text","angle":270,"fontWeight":"bold","fontSize":6.5,"font":"Liberation Sans","color":"#1A1A1A","baseline":"middle","align":"center"},
"encoding":{"text":{"field":"lab"},"y":{"datum":0.915,"type":"quantitative","scale":{"domain":[-3.33,5.16],"nice":false,"zero":false},"axis":{"values":[-3,0,3],"format":"d","grid":false,"title":null,"labelPadding":1}}}},
{"width":255,"height":92,"view":{"stroke":"#8C8C8C","strokeWidth":0.6,"fill":"white"},
"title":{"text":"Source: AQS + HMS smk, AirNowTech.org","orient":"bottom","anchor":"end","fontSize":4.5,"fontWeight":"normal","color":"#333333","offset":2,"font":"Liberation Sans"},
"layer":[
{"data":{"name":"bands"},"mark":{"type":"rect","color":"#C8C8C8","opacity":0.75},
"encoding":{"x":{"field":"t","type":"temporal","scale":{"domain":[{"year":2016,"month":4,"date":22,"hours":14},{"year":2016,"month":11,"date":9,"hours":10}]},"axis":{"format":"%d-%b","labelAngle":270,"labelAlign":"right","labelBaseline":"middle","labelPadding":1.5,"labelOverlap":false,"labelFontSize":5.2,"tickCount":100,"title":"May-Oct, 2016","titleFontSize":6.5,"titlePadding":5,"grid":true,"values":[{"year":2016,"month":4,"date":25},{"year":2016,"month":5,"date":2},{"year":2016,"month":5,"date":9},{"year":2016,"month":5,"date":16},{"year":2016,"month":5,"date":23},{"year":2016,"month":5,"date":30},{"year":2016,"month":6,"date":6},{"year":2016,"month":6,"date":13},{"year":2016,"month":6,"date":20},{"year":2016,"month":6,"date":27},{"year":2016,"month":7,"date":4},{"year":2016,"month":7,"date":11},{"year":2016,"month":7,"date":18},{"year":2016,"month":7,"date":25},{"year":2016,"month":8,"date":1},{"year":2016,"month":8,"date":8},{"year":2016,"month":8,"date":15},{"year":2016,"month":8,"date":22},{"year":2016,"month":8,"date":29},{"year":2016,"month":9,"date":5},{"year":2016,"month":9,"date":12},{"year":2016,"month":9,"date":19},{"year":2016,"month":9,"date":26},{"year":2016,"month":10,"date":3},{"year":2016,"month":10,"date":10},{"year":2016,"month":10,"date":17},{"year":2016,"month":10,"date":24},{"year":2016,"month":10,"date":31},{"year":2016,"month":11,"date":7}]}},"x2":{"field":"t2"}}},
{"data":{"name":"refs"},"mark":{"type":"rule","strokeDash":[3,2],"color":"#333333","strokeWidth":0.7},
"encoding":{"y":{"field":"v","type":"quantitative","scale":{"domain":[-3.33,5.16],"nice":false,"zero":false},"axis":{"labels":false,"ticks":false,"title":null,"grid":true,"tickCount":20,"values":[-3,-1.5,0,1.5,3,4.5]}}}},
{"data":{"name":"zero"},"mark":{"type":"rule","color":"#7F7F7F","strokeWidth":1.5},"encoding":{"y":{"field":"v","type":"quantitative"}}},
{"data":{"name":"co"},"transform":[{"filter":"datum.k != 'm'"},{"lookup":"k","from":{"data":{"name":"series"},"key":"k","fields":["s"]}}],
"mark":{"type":"line","strokeWidth":0.7,"opacity":1},
"encoding":{"x":{"field":"t","type":"temporal"},"y":{"field":"v","type":"quantitative"},
"color":{"field":"s","type":"nominal","scale":{"domain":["CO: 170314201","CO: 180890015","O3: 170310001","O3: 170310032","O3: 170310076","O3: 170311003","O3: 170311601","O3: 170313103","O3: 170314002","O3: 170314007","O3: 170314201","O3: 170317002","O3: 170436001","O3: 170890005","O3: 170971007","O3: 171971011","O3: 180890022","O3: 180892008","O3: 550590019","O3: 550590025","PM25: 170310001","PM25: 170310022","PM25: 170310052","PM25: 170310057","PM25: 170310076","PM25: 170311016","PM25: 170313103","PM25: 170313301","PM25: 170314007","PM25: 170314201","PM25: 170316005","PM25: 170434002","PM25: 170890003","PM25: 170890007","PM25: 171971002","PM25: 171971011","PM25: 180890006","PM25: 180890022","PM25: 180890026","PM25: 180890031","PM25: 180892004","PM25: 550590019"],"range":["#F8766D","#F17C4E","#E9832F","#E28910","#D88F00","#CD9400","#C29A00","#B79F00","#A6A300","#95A800","#84AC00","#6AB008","#47B318","#23B728","#00BA38","#00BC50","#00BD67","#00BF7F","#00C093","#00C0A3","#00BFB3","#00BFC4","#00BCD1","#00B9DC","#00B6EA","#0EB1F2","#2AAAF6","#45A3FB","#619CFF","#7E93FF","#9B8AFF","#B881FF","#CE79FB","#DB72F3","#E86BEB","#F564E3","#F864D4","#FB64C6","#FE64B7","#FE67A6","#FC6C93","#F97180"]},
"legend":{"title":"var_Site","orient":"none","legendX":267,"legendY":-7}}}},
{"data":{"name":"co"},"transform":[{"filter":"datum.k == 'm'"}],"mark":{"type":"line","color":"#000000","strokeWidth":0.9},
"encoding":{"x":{"field":"t","type":"temporal"},"y":{"field":"v","type":"quantitative"}}},
{"data":{"name":"events"},"mark":{"type":"text","fontSize":5.5,"color":"#333333","font":"Liberation Sans"},"encoding":{"x":{"field":"t","type":"temporal"},"y":{"datum":4.75},"text":{"field":"lab"}}},
{"data":{"name":"events"},"mark":{"type":"text","fontSize":5.5,"color":"#333333","font":"Liberation Sans"},"encoding":{"x":{"field":"t","type":"temporal"},"y":{"datum":4.0},"text":{"field":"m"}}}
]}
]
}
